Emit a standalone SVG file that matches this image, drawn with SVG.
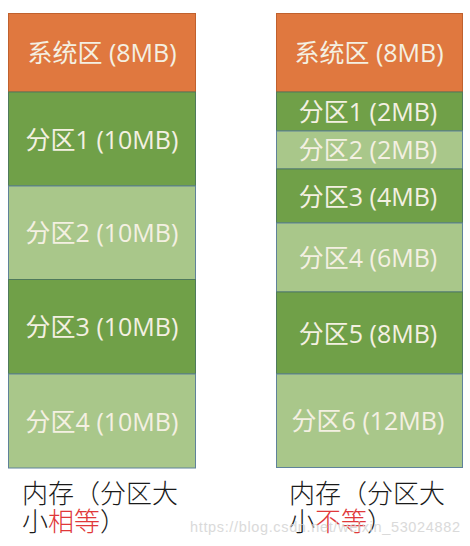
<svg xmlns="http://www.w3.org/2000/svg" width="470" height="546" viewBox="0 0 470 546">
<style>
.sys{fill:#E0783F;stroke:#C0612E;stroke-width:1}
.dk{fill:#70A048;stroke:#4F7A5C;stroke-width:1}
.lt{fill:#A9C78A;stroke:#5F829A;stroke-width:1}
.t{font-family:"Open Sans","Noto Sans CJK SC",sans-serif;font-size:25px;fill:#F4F0E2;text-anchor:middle}
.cap{font-family:"Noto Sans CJK SC",sans-serif;font-size:26px;font-weight:300;fill:#1a1a1a}
.red{fill:#E0383A}
.wm{font-family:"Liberation Sans",Arial,sans-serif;font-size:14.5px;fill:#d4d4d4;opacity:0.85}
</style>
<rect x="0" y="0" width="470" height="546" fill="#ffffff"/>
<g id="left">
  <g id="L-sys"><rect class="sys" x="8.5" y="13.5" width="187" height="78.5"/><text class="t" x="102" y="61.5">系统区 (8MB)</text></g>
  <g id="L-p1"><rect class="dk" x="8.5" y="92" width="187" height="94"/><text class="t" x="102" y="148.5">分区1 (10MB)</text></g>
  <g id="L-p2"><rect class="lt" x="8.5" y="186" width="187" height="93.5"/><text class="t" x="102" y="242">分区2 (10MB)</text></g>
  <g id="L-p3"><rect class="dk" x="8.5" y="279.5" width="187" height="94.5"/><text class="t" x="102" y="336">分区3 (10MB)</text></g>
  <g id="L-p4"><rect class="lt" x="8.5" y="374" width="187" height="94"/><text class="t" x="102" y="430.5">分区4 (10MB)</text></g>
  <g id="L-cap"><text class="cap" x="22" y="503">内存（分区大</text><text class="cap" x="22" y="531">小<tspan class="red">相等</tspan>）</text></g>
</g>
<g id="right">
  <g id="R-sys"><rect class="sys" x="276.5" y="13.5" width="186" height="78.5"/><text class="t" x="369" y="61.5">系统区 (8MB)</text></g>
  <g id="R-p1"><rect class="dk" x="276.5" y="92" width="186" height="39"/><text class="t" x="368" y="120.5">分区1 (2MB)</text></g>
  <g id="R-p2"><rect class="lt" x="276.5" y="131" width="186" height="38"/><text class="t" x="368" y="159">分区2 (2MB)</text></g>
  <g id="R-p3"><rect class="dk" x="276.5" y="169" width="186" height="54"/><text class="t" x="368" y="205.5">分区3 (4MB)</text></g>
  <g id="R-p4"><rect class="lt" x="276.5" y="223" width="186" height="69"/><text class="t" x="368" y="266.5">分区4 (6MB)</text></g>
  <g id="R-p5"><rect class="dk" x="276.5" y="292" width="186" height="82"/><text class="t" x="368" y="342.5">分区5 (8MB)</text></g>
  <g id="R-p6"><rect class="lt" x="276.5" y="374" width="186" height="93.5"/><text class="t" x="368" y="429.5">分区6 (12MB)</text></g>
  <g id="R-cap"><text class="cap" x="289" y="503">内存（分区大</text><text class="cap" x="289" y="531">小<tspan class="red">不等</tspan>）</text></g>
</g>
<g id="connectors"/>
<text class="wm" x="190" y="532" textLength="270">https://blog.csdn.net/weixin_53024882</text>
</svg>
